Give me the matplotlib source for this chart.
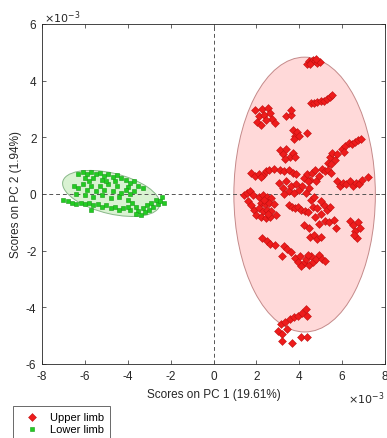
import numpy as np
import matplotlib
matplotlib.use("Agg")
import matplotlib.pyplot as plt
from matplotlib.patches import Ellipse

plt.rcParams['font.family'] = ['Liberation Sans', 'DejaVu Sans']

# Scores (x 1e-3)
upper_x = [4.35,4.45,4.55,4.65,4.75,4.85,4.95,4.5,4.8,
           4.55,4.7,4.85,5.0,5.15,5.3,5.45,5.55,
           1.95,2.1,2.05,2.25,2.35,2.2,2.55,2.65,2.75,2.85,2.45,
           3.4,3.6,3.6,
           3.7,3.8,3.9,4.0,3.75,4.35,
           6.0,6.15,6.3,6.45,6.6,6.75,6.9,6.1,
           3.1,3.25,3.4,3.55,3.7,3.8,3.35,
           5.35,5.45,5.55,5.65,5.75,5.5,
           1.75,1.95,2.1,2.3,2.45,2.6,2.8,2.2,
           3.1,3.3,3.5,3.7,3.85,
           4.2,4.35,4.5,4.6,4.75,4.9,5.05,5.2,5.35,5.5,4.4,4.8,
           5.75,5.9,6.05,6.2,6.35,6.5,6.65,6.8,6.95,7.2,
           3.05,3.25,3.4,3.5,3.6,3.75,3.85,4.0,4.15,4.3,4.45,3.3,
           1.4,1.55,1.7,1.85,1.6,1.75,
           2.1,2.3,2.5,2.7,2.2,2.4,2.6,2.8,1.9,2.1,2.3,2.5,2.7,2.0,2.2,2.45,2.65,2.9,2.35,2.55,
           3.5,3.65,3.8,3.95,4.1,4.25,4.4,
           4.55,4.7,4.65,4.85,4.75,5.0,5.15,5.3,5.45,5.2,5.4,5.6,5.7,4.9,5.0,
           4.2,4.45,
           6.35,6.5,6.6,6.75,6.85,6.7,6.55,
           4.5,4.7,4.85,5.0,
           2.25,2.5,2.65,2.85,3.3,3.45,3.6,3.2,
           3.8,3.95,4.05,4.2,4.3,4.45,4.55,4.65,4.8,4.9,5.05,5.2,4.1,4.4,
           3.15,3.35,3.55,3.75,3.95,4.15,4.3,4.35,3.0,3.2,3.45,3.2,3.65,4.1,4.35]
upper_y = [4.6,4.7,4.65,4.72,4.68,4.62,4.66,4.58,4.75,
           3.2,3.22,3.25,3.28,3.3,3.35,3.42,3.5,
           2.95,2.75,2.55,3.0,2.8,2.45,3.05,2.85,2.65,2.5,2.6,
           2.75,2.8,2.95,
           2.25,2.05,2.2,2.05,1.95,2.15,
           1.6,1.7,1.8,1.75,1.85,1.9,1.95,1.5,
           1.55,1.4,1.6,1.3,1.45,1.3,1.25,
           1.1,1.3,1.45,1.2,1.4,1.05,
           0.75,0.65,0.72,0.68,0.8,0.85,0.9,0.6,
           0.85,0.8,0.85,0.75,0.72,
           0.55,0.7,0.5,0.75,0.85,0.65,0.9,0.8,0.85,0.75,0.45,0.45,
           0.45,0.3,0.4,0.35,0.45,0.3,0.4,0.35,0.5,0.6,
           0.4,0.2,0.45,0.1,0.3,0.05,0.35,0.15,0.3,0.05,0.2,0.0,
           -0.05,0.05,0.1,-0.02,-0.25,-0.4,
           -0.1,-0.05,-0.1,-0.15,-0.3,-0.35,-0.3,-0.35,-0.55,-0.5,-0.6,-0.55,-0.6,-0.75,-0.8,-0.85,-0.8,-0.75,-0.2,-0.7,
           -0.4,-0.45,-0.5,-0.45,-0.55,-0.6,-0.65,
           -0.2,-0.1,-0.45,-0.5,-0.8,-0.7,-0.4,-0.55,-0.45,-0.95,-1.0,-0.9,-1.2,-1.05,-0.25,
           -1.1,-1.2,
           -0.95,-1.1,-1.3,-1.0,-1.2,-1.55,-1.45,
           -1.5,-1.45,-1.6,-1.5,
           -1.55,-1.65,-1.75,-1.8,-1.85,-1.95,-2.05,-2.2,
           -2.25,-2.4,-2.2,-2.45,-2.3,-2.5,-2.2,-2.4,-2.3,-2.15,-2.3,-2.35,-2.55,-2.15,
           -4.6,-4.5,-4.4,-4.35,-4.3,-4.2,-4.05,-4.3,-4.85,-4.95,-4.75,-5.2,-5.25,-5.05,-5.05]

lower_x = [-6.3,-6.1,-5.9,-5.7,-5.5,-5.3,-5.1,-4.9,-4.7,-4.5,-4.3,-6.0,-5.6,-5.2,
           -4.1,-3.9,-3.7,-3.5,-3.3,-4.0,
           -6.5,-6.3,-6.1,-5.9,-5.7,-5.5,-5.3,-5.1,-4.9,-4.7,-4.5,-4.3,-4.1,-3.9,-3.7,
           -6.4,-6.0,-5.6,-5.2,-4.8,-4.4,-4.0,-5.8,-5.0,-4.6,
           -7.0,-6.8,-6.6,-6.4,-6.2,
           -6.0,-5.8,-5.6,-5.4,-5.2,-5.0,-4.8,-4.6,-4.4,-4.2,-5.7,
           -3.8,-3.6,-3.5,-3.4,-3.3,-3.2,-3.1,-3.0,-2.9,-2.8,-2.7,-2.6,-2.5,-2.4,-2.3,-3.6,-3.9,-4.0]
lower_y = [0.7,0.78,0.72,0.78,0.7,0.75,0.65,0.7,0.6,0.68,0.55,0.55,0.55,0.5,
           0.5,0.4,0.45,0.3,0.2,0.25,
           0.3,0.2,0.35,0.15,0.3,0.1,0.3,0.15,0.35,0.1,0.3,0.05,0.15,0.0,0.1,
           0.0,-0.05,-0.1,-0.05,-0.15,-0.1,-0.2,0.45,0.45,0.45,
           -0.2,-0.25,-0.3,-0.35,-0.3,
           -0.35,-0.3,-0.4,-0.35,-0.45,-0.4,-0.5,-0.45,-0.55,-0.5,-0.55,
           -0.3,-0.45,-0.6,-0.75,-0.5,-0.65,-0.4,-0.55,-0.3,-0.45,-0.2,-0.35,-0.25,-0.1,-0.3,-0.7,-0.55,-0.45]

# confidence ellipses: center and covariance-like shape (x 1e-3)
upper_center = (4.25, -0.02)
upper_cov = [[3.3**2, 0.0], [0.0, 4.85**2]]
lower_center = (-4.77, 0.02)
lower_cov = [[5.15, -0.80], [-0.80, 0.66]]

xticks = [-8, -6, -4, -2, 0, 2, 4, 6, 8]
yticks = [-6, -4, -2, 0, 2, 4, 6]

fig = plt.figure(figsize=(3.87, 4.39), dpi=100)
ax = fig.add_axes([42/387, 1-365/439, (385-42)/387, (365-25)/439])

def add_ellipse(center, cov, fc, ec):
    vals, vecs = np.linalg.eigh(np.array(cov))
    ang = np.degrees(np.arctan2(vecs[1, 1], vecs[0, 1]))
    e = Ellipse(center, 2*np.sqrt(vals[1]), 2*np.sqrt(vals[0]), angle=ang,
                facecolor=fc, edgecolor=ec, lw=0.7, zorder=1)
    ax.add_patch(e)

add_ellipse(upper_center, upper_cov, '#ffd9d9', '#c48a8a')
add_ellipse(lower_center, lower_cov, '#d9f2d2', '#88b888')

ax.axvline(0, color='#555555', ls=(0, (4, 3)), lw=0.7, zorder=2)
ax.axhline(0, color='#555555', ls=(0, (4, 3)), lw=0.7, zorder=2)

h1 = ax.scatter(upper_x, upper_y, marker='D', s=16, c='#ee1c1c', edgecolors='#c01010',
                linewidths=0.4, zorder=3, label='Upper limb')
h2 = ax.scatter(lower_x, lower_y, marker='s', s=10, c='#22cc22', edgecolors='#169a16',
                linewidths=0.4, zorder=3, label='Lower limb')

ax.set_xlim(-8, 8)
ax.set_ylim(-6, 6)
ax.set_xticks(xticks)
ax.set_yticks(yticks)
ax.set_xticklabels([str(t) for t in xticks])
ax.set_yticklabels([str(t) for t in yticks])
ax.tick_params(direction='in', top=True, right=True, length=3, width=0.5,
               colors='#262626', labelsize=8.5, pad=4)
for sp in ax.spines.values():
    sp.set_color('#262626')
    sp.set_linewidth(0.6)

ax.set_xlabel('Scores on PC 1 (19.61%)', fontsize=8.5, color='#262626', labelpad=5)
ax.set_ylabel('Scores on PC 2 (1.94%)', fontsize=8.5, color='#262626', labelpad=3)

fig.text(44/387, 1-18/439, r'$\times10^{-3}$', fontsize=8, color='#262626',
         ha='left', va='center')
fig.text(384/387, 1-399/439, r'$\times10^{-3}$', fontsize=8, color='#262626',
         ha='right', va='center')

leg = fig.legend(handles=[h1, h2], loc='upper left',
                 bbox_to_anchor=(13/387, 1-407/439), fontsize=8, frameon=True,
                 fancybox=False, edgecolor='#262626', borderpad=0.5,
                 labelspacing=0.2, handletextpad=0.4, borderaxespad=0,
                 handlelength=2.45, scatterpoints=1)
leg.get_frame().set_linewidth(0.6)

fig.savefig('out.png', dpi=100)
